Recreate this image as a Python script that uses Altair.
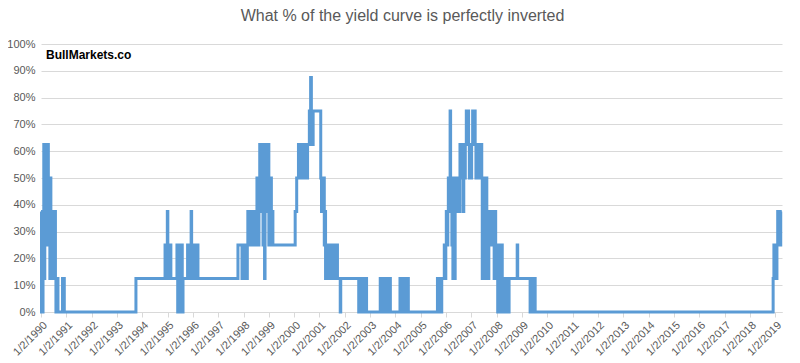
import altair as alt
import pandas as pd

TITLE = "What % of the yield curve is perfectly inverted"
WATERMARK = "BullMarkets.co"

# (decimal year, % of curve inverted) step points
ep_1990 = [
    (1990.00, 37.5), (1990.02, 0), (1990.04, 25), (1990.06, 0), (1990.08, 37.5),
    (1990.10, 12.5), (1990.11, 62.5), (1990.13, 12.5), (1990.15, 62.5), (1990.17, 25),
    (1990.19, 62.5), (1990.21, 25), (1990.23, 62.5), (1990.25, 37.5), (1990.27, 62.5),
    (1990.29, 50), (1990.31, 25), (1990.33, 50), (1990.35, 12.5), (1990.37, 50),
    (1990.39, 37.5), (1990.41, 25), (1990.43, 37.5), (1990.45, 12.5), (1990.47, 37.5),
    (1990.49, 25), (1990.51, 37.5), (1990.53, 12.5), (1990.55, 37.5), (1990.57, 12.5),
    (1990.59, 0), (1990.61, 12.5), (1990.63, 0), (1990.65, 12.5), (1990.67, 0),
    (1990.85, 12.5), (1990.87, 0), (1990.89, 12.5), (1990.92, 0),
]

ep_1994_1996 = [
    (1993.75, 12.5), (1994.90, 25), (1994.93, 12.5), (1994.96, 25), (1994.99, 37.5),
    (1995.01, 25), (1995.04, 12.5), (1995.06, 25), (1995.09, 12.5), (1995.11, 25),
    (1995.13, 12.5),
    (1995.37, 25), (1995.40, 0), (1995.43, 25), (1995.46, 0), (1995.49, 12.5),
    (1995.52, 0), (1995.55, 25), (1995.58, 0), (1995.61, 12.5),
    (1995.79, 25), (1995.82, 12.5), (1995.85, 25), (1995.88, 12.5), (1995.91, 25),
    (1995.93, 37.5), (1995.95, 12.5), (1995.98, 25), (1996.01, 12.5), (1996.04, 25),
    (1996.07, 12.5), (1996.10, 25), (1996.13, 12.5), (1996.16, 25), (1996.20, 12.5),
]

ep_1998_2001 = [
    (1997.78, 25), (1997.94, 12.5), (1997.97, 25), (1998.00, 12.5), (1998.03, 25),
    (1998.06, 12.5), (1998.09, 25), (1998.12, 12.5), (1998.15, 25),
    (1998.17, 37.5), (1998.20, 25), (1998.23, 37.5), (1998.26, 25), (1998.29, 37.5),
    (1998.32, 25), (1998.35, 37.5), (1998.38, 25), (1998.41, 37.5), (1998.44, 25),
    (1998.47, 37.5), (1998.50, 25), (1998.53, 50), (1998.55, 37.5), (1998.58, 25),
    (1998.61, 50), (1998.64, 62.5), (1998.66, 37.5), (1998.69, 62.5), (1998.72, 50),
    (1998.74, 62.5), (1998.77, 25), (1998.80, 50), (1998.83, 12.5), (1998.85, 37.5),
    (1998.88, 62.5), (1998.91, 37.5), (1998.93, 62.5), (1998.96, 50), (1998.98, 62.5),
    (1999.00, 25), (1999.03, 50), (1999.05, 25), (1999.08, 50), (1999.10, 25),
    (1999.13, 37.5), (1999.16, 25),
    (2000.04, 37.5), (2000.10, 50), (2000.17, 62.5), (2000.20, 50), (2000.23, 62.5),
    (2000.26, 50), (2000.29, 62.5), (2000.32, 50), (2000.35, 62.5), (2000.38, 50),
    (2000.41, 62.5), (2000.44, 50), (2000.47, 62.5), (2000.50, 50), (2000.53, 62.5),
    (2000.60, 75), (2000.62, 62.5), (2000.65, 87.5), (2000.68, 62.5), (2000.70, 75),
    (2000.72, 62.5), (2000.75, 75),
    (2001.05, 50), (2001.08, 37.5), (2001.11, 50), (2001.14, 37.5), (2001.17, 50),
    (2001.19, 25), (2001.22, 37.5), (2001.24, 12.5), (2001.27, 25), (2001.30, 12.5),
    (2001.33, 25), (2001.36, 12.5), (2001.39, 25), (2001.42, 12.5), (2001.45, 25),
    (2001.48, 12.5), (2001.51, 25), (2001.54, 12.5), (2001.57, 25), (2001.60, 12.5),
    (2001.63, 25), (2001.66, 12.5), (2001.69, 25), (2001.71, 12.5),
    (2001.82, 0), (2001.84, 12.5),
]

ep_2002_2004 = [
    (2002.55, 0), (2002.58, 12.5), (2002.61, 0), (2002.64, 12.5), (2002.67, 0),
    (2002.70, 12.5), (2002.73, 0), (2002.76, 12.5), (2002.79, 0), (2002.82, 12.5),
    (2002.86, 0),
    (2003.40, 12.5), (2003.43, 0), (2003.46, 12.5), (2003.49, 0), (2003.52, 12.5),
    (2003.55, 0), (2003.58, 12.5), (2003.61, 0), (2003.64, 12.5), (2003.67, 0),
    (2003.70, 12.5), (2003.73, 0), (2003.76, 12.5), (2003.80, 0),
    (2004.18, 12.5), (2004.21, 0), (2004.24, 12.5), (2004.27, 0), (2004.30, 12.5),
    (2004.33, 0), (2004.36, 12.5), (2004.39, 0), (2004.42, 12.5), (2004.46, 0),
    (2004.48, 12.5), (2004.51, 0),
]

ep_2005_2009 = [
    (2005.66, 12.5), (2005.69, 0), (2005.72, 12.5), (2005.75, 0), (2005.78, 12.5),
    (2005.81, 0), (2005.83, 12.5),
    (2005.93, 25), (2005.96, 12.5), (2005.99, 25), (2006.01, 37.5), (2006.04, 25),
    (2006.07, 37.5), (2006.09, 50), (2006.12, 37.5), (2006.16, 75), (2006.18, 37.5),
    (2006.20, 50), (2006.23, 25), (2006.25, 50), (2006.27, 12.5), (2006.30, 37.5),
    (2006.33, 12.5), (2006.36, 50), (2006.39, 37.5), (2006.42, 50), (2006.45, 37.5),
    (2006.48, 50), (2006.51, 37.5), (2006.55, 62.5), (2006.58, 50), (2006.61, 62.5),
    (2006.64, 50), (2006.68, 37.5), (2006.70, 62.5), (2006.73, 50), (2006.76, 62.5),
    (2006.80, 75), (2006.83, 62.5), (2006.86, 75), (2006.89, 62.5), (2006.92, 50),
    (2006.95, 62.5), (2006.98, 50), (2007.01, 62.5), (2007.05, 75), (2007.08, 62.5),
    (2007.11, 75), (2007.15, 62.5), (2007.18, 50), (2007.21, 62.5), (2007.24, 50),
    (2007.27, 62.5), (2007.30, 50), (2007.33, 62.5), (2007.36, 50), (2007.39, 62.5),
    (2007.41, 50), (2007.43, 12.5), (2007.45, 37.5), (2007.47, 25), (2007.49, 50),
    (2007.51, 25), (2007.53, 12.5), (2007.55, 37.5), (2007.57, 25), (2007.59, 50),
    (2007.61, 12.5), (2007.63, 25), (2007.66, 12.5), (2007.69, 25), (2007.72, 37.5),
    (2007.75, 25), (2007.78, 37.5), (2007.81, 25), (2007.84, 37.5), (2007.87, 25),
    (2007.90, 12.5), (2007.93, 37.5), (2007.96, 12.5), (2007.99, 25), (2008.02, 12.5),
    (2008.04, 0), (2008.07, 12.5), (2008.10, 0), (2008.13, 25), (2008.16, 0),
    (2008.19, 25), (2008.22, 0), (2008.25, 12.5), (2008.28, 0), (2008.31, 12.5),
    (2008.34, 0), (2008.37, 12.5), (2008.40, 0), (2008.43, 12.5), (2008.46, 0),
    (2008.49, 12.5),
    (2008.81, 25), (2008.83, 12.5),
    (2009.32, 0), (2009.35, 12.5), (2009.38, 0), (2009.41, 12.5), (2009.44, 0),
    (2009.47, 12.5), (2009.52, 0),
]

ep_2018_2019 = [
    (2018.92, 12.5), (2018.95, 25), (2018.98, 12.5), (2019.01, 25), (2019.04, 12.5),
    (2019.07, 25), (2019.10, 37.5), (2019.13, 25), (2019.16, 37.5), (2019.19, 25),
    (2019.22, 37.5), (2019.26, 37.5),
]

tick_years = list(range(1990, 2020))
y_ticks = [0, 10, 20, 30, 40, 50, 60, 70, 80, 90, 100]

points = ep_1990 + ep_1994_1996 + ep_1998_2001 + ep_2002_2004 + ep_2005_2009 + ep_2018_2019
df = pd.DataFrame(points, columns=["year", "pct"])

FONT = "Liberation Sans"
GRAY = "#595959"

line = alt.Chart(df).mark_line(
    interpolate="step-after", color="#5B9BD5", strokeWidth=3, strokeJoin="miter"
).encode(
    x=alt.X(
        "year:Q",
        scale=alt.Scale(domain=[1990, 2019.27], nice=False, zero=False),
        axis=alt.Axis(
            values=tick_years,
            labelExpr="'1/2/' + datum.value",
            labelAngle=-45,
            labelAlign="right",
            labelBaseline="top",
            labelFontSize=11,
            labelColor=GRAY,
            labelFont=FONT,
            labelPadding=2,
            labelOverlap=False,
            grid=False,
            domainColor="#D9D9D9",
            tickColor="#D9D9D9",
            tickSize=5,
            title=None,
        ),
    ),
    y=alt.Y(
        "pct:Q",
        scale=alt.Scale(domain=[0, 100], nice=False),
        axis=alt.Axis(
            values=y_ticks,
            labelExpr="datum.value + '%'",
            labelFontSize=11,
            labelColor=GRAY,
            labelFont=FONT,
            labelPadding=6,
            domain=False,
            ticks=False,
            gridColor="#D9D9D9",
            gridWidth=1,
            title=None,
        ),
    ),
)

mark_text = alt.Chart(pd.DataFrame({"t": [WATERMARK]})).mark_text(
    align="left", baseline="middle", font=FONT, fontSize=12, fontWeight="bold", color="#000000"
).encode(x=alt.value(5), y=alt.value(11), text="t:N")

chart = alt.layer(line, mark_text).properties(
    width=741,
    height=268,
    padding={"left": 33, "top": 36, "right": 10, "bottom": 50},
    autosize=alt.AutoSizeParams(type="none"),
    title=alt.TitleParams(
        TITLE, font=FONT, fontSize=16, fontWeight="normal", color=GRAY,
        anchor="middle", offset=14, dx=-9,
    ),
).configure_view(stroke=None)

chart.save("out.html", embed_options={"renderer": "svg", "actions": False})
